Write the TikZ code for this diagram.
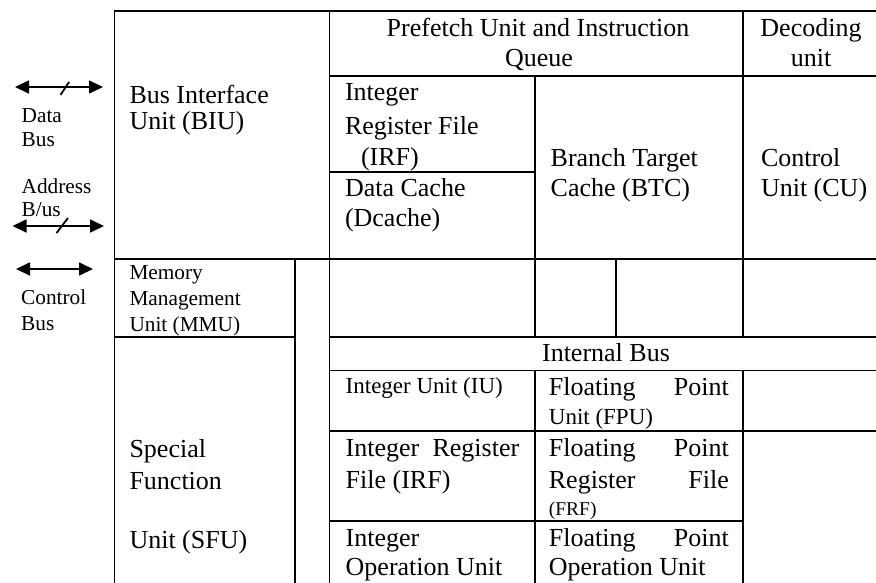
\documentclass[tikz,border=0pt]{standalone}
\usepackage{fontspec}
\setmainfont{Liberation Serif}
\usetikzlibrary{arrows.meta}
\tikzset{
  grid/.style={line width=1.9pt, line cap=rect},
  big/.style={font=\fontsize{26}{30}\selectfont, inner sep=0pt, anchor=base west},
  bigc/.style={font=\fontsize{26}{30}\selectfont, inner sep=0pt, anchor=base},
  mid/.style={font=\fontsize{23}{26}\selectfont, inner sep=0pt, anchor=base west},
  small/.style={font=\fontsize{21.3}{24}\selectfont, inner sep=0pt, anchor=base west},
  tiny/.style={font=\fontsize{19.5}{22}\selectfont, inner sep=0pt, anchor=base west},
  busarrow/.style={line width=1.7pt, {Triangle[length=14pt,width=13pt]}-{Triangle[length=14pt,width=13pt]}},
  slash/.style={line width=1.8pt}
}
\begin{document}
\begin{tikzpicture}[x=1pt,y=-1pt]
\useasboundingbox (0,0) rectangle (876,582);
% grid lines
\draw[grid] (114.5,11) -- (876,11);
\draw[grid] (329.5,75.7) -- (876,75.7);
\draw[grid] (329.5,172) -- (535,172);
\draw[grid] (114.5,259) -- (876,259);
\draw[grid] (114.5,337) -- (295,337);
\draw[grid] (329.5,337) -- (876,337);
\draw[grid] (329.5,370.5) -- (876,370.5);
\draw[grid] (329.5,431) -- (876,431);
\draw[grid] (329.5,521) -- (743,521);
\draw[grid] (114.5,11) -- (114.5,582);
\draw[grid] (295,259) -- (295,582);
\draw[grid] (329.5,11) -- (329.5,582);
\draw[grid] (535,75.7) -- (535,337);
\draw[grid] (535,370.5) -- (535,582);
\draw[grid] (616,259) -- (616,337);
\draw[grid] (743,11) -- (743,337);
\draw[grid] (743,370.5) -- (743,582);

% external buses
\coordinate (dL) at (15,87);   \coordinate (dR) at (103,87);
\coordinate (aL) at (12.5,226); \coordinate (aR) at (104,226);
\coordinate (cL) at (16,269);  \coordinate (cR) at (93,269);
\draw[busarrow] (dL) -- (dR);
\draw[busarrow] (aL) -- (aR);
\draw[busarrow] (cL) -- (cR);
\coordinate (ds1) at (60.5,95); \coordinate (ds2) at (69,82);
\coordinate (as1) at (56.5,233); \coordinate (as2) at (68,218);
\draw[slash] (ds1) -- (ds2);
\draw[slash] (as1) -- (as2);
\node[small] (data1) at (21.5,122.7) {Data};
\node[small] (data2) at (21.5,146.7) {Bus};
\node[small] (addr1) at (21.5,193.3) {Address};
\node[small] (addr2) at (21.5,216.7) {B/us};
\node[small] (ctl1) at (21,304) {Control};
\node[small] (ctl2) at (21,330) {Bus};

% BIU
\node[big] (biu1) at (129.3,103.3) {Bus Interface};
\node[big] (biu2) at (129.3,129.3) {Unit (BIU)};
% MMU
\node[small] (mmu1) at (129.3,279) {Memory};
\node[small] (mmu2) at (129.3,305) {Management};
\node[small] (mmu3) at (129.3,331) {Unit (MMU)};
% SFU
\node[big] (sfu1) at (129.3,457) {Special};
\node[big] (sfu2) at (129.3,489) {Function};
\node[big] (sfu3) at (129.3,548) {Unit (SFU)};

% top row
\node[bigc] (pf1) at (538,36) {Prefetch Unit and Instruction};
\node[bigc] (pf2) at (539,66.7) {Queue};
\node[bigc] (dec1) at (811,36) {Decoding};
\node[bigc] (dec2) at (811,66.7) {unit};
% second row
\node[big] (irf1) at (344.8,100.7) {Integer};
\node[big] (irf2) at (344.8,134) {Register File};
\node[big] (irf3) at (360.8,165) {(IRF)};
\node[big] (dc1) at (344.8,196.7) {Data Cache};
\node[big] (dc2) at (344.8,226.7) {(Dcache)};
\node[big] (btc1) at (550.5,166.7) {Branch Target};
\node[big] (btc2) at (550.5,196.7) {Cache (BTC)};
\node[big] (cu1) at (760.8,166.7) {Control};
\node[big] (cu2) at (760.8,196.7) {Unit (CU)};

% internal bus
\node[bigc] (ib) at (606,361.7) {Internal Bus};

% execution units
\node[mid] (iu) at (345.5,393) {Integer Unit (IU)};
\node[big] (fpu1) at (548.7,395.7) {\makebox[180pt][s]{Floating Point}};
\node[mid] (fpu2) at (548.7,424.3) {Unit (FPU)};
\node[big] (iirf1) at (345.5,456.7) {\makebox[173.5pt][s]{Integer Register}};
\node[big] (iirf2) at (345.5,488) {File (IRF)};
\node[big] (frf1) at (548.7,456.7) {\makebox[180pt][s]{Floating Point}};
\node[big] (frf2) at (548.7,488) {\makebox[180pt][s]{Register File}};
\node[tiny] (frf3) at (548.7,515) {(FRF)};
\node[big] (iou1) at (345.5,546.7) {Integer};
\node[big] (iou2) at (345.5,575) {Operation Unit};
\node[big] (fou1) at (548.7,546.7) {\makebox[180pt][s]{Floating Point}};
\node[big] (fou2) at (548.7,575) {Operation Unit};
\end{tikzpicture}
\end{document}
